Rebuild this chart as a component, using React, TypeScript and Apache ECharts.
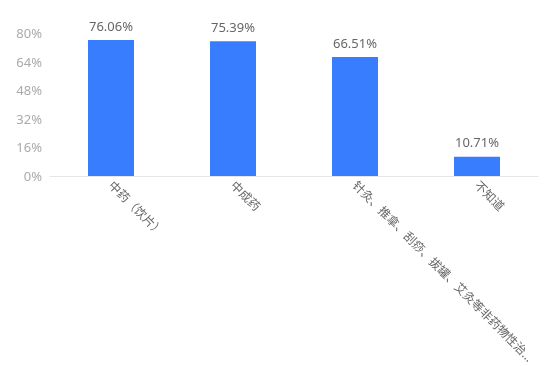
import React, { useEffect, useRef } from "react";
import * as echarts from "echarts";

const categories = ["中药（饮片）", "中成药", "针灸、推拿、刮痧、拔罐、艾灸等非药物性治疗", "不知道"];
const values = [76.06, 75.39, 66.51, 10.71];

export default function App() {
  const ref = useRef<HTMLDivElement>(null);
  useEffect(() => {
    const chart = echarts.init(ref.current!, undefined, { renderer: "svg" });
    chart.setOption({
      animation: false,
      textStyle: { fontFamily: "'Noto Sans', 'Noto Sans CJK SC', sans-serif" },
      grid: { left: 50, right: 15, top: 33, bottom: 190, outerBoundsMode: "none" },
      xAxis: {
        type: "category",
        data: categories,
        axisLine: { lineStyle: { color: "#e6e6e6" } },
        axisTick: { show: false },
        axisLabel: {
          rotate: -45,
          color: "#666",
          fontSize: 12,
          margin: 7,
          width: 253,
          overflow: "truncate",
          interval: 0,
        },
      },
      yAxis: {
        type: "value",
        min: 0,
        max: 80,
        interval: 16,
        axisLine: { show: false },
        axisTick: { show: false },
        splitLine: { show: false },
        axisLabel: { color: "#aaa", fontSize: 13, formatter: "{value}%", margin: 8 },
      },
      series: [
        {
          type: "bar",
          data: values,
          barWidth: 46,
          itemStyle: { color: "#387dfe" },
          label: {
            show: true,
            position: "top",
            color: "#666",
            fontSize: 13,
            distance: 8,
            formatter: (p: any) => p.value.toFixed(2) + "%",
          },
        },
      ],
    });
    return () => chart.dispose();
  }, []);
  return <div ref={ref} style={{ position: "fixed", left: 0, top: 0, width: 553, height: 366 }} />;
}
